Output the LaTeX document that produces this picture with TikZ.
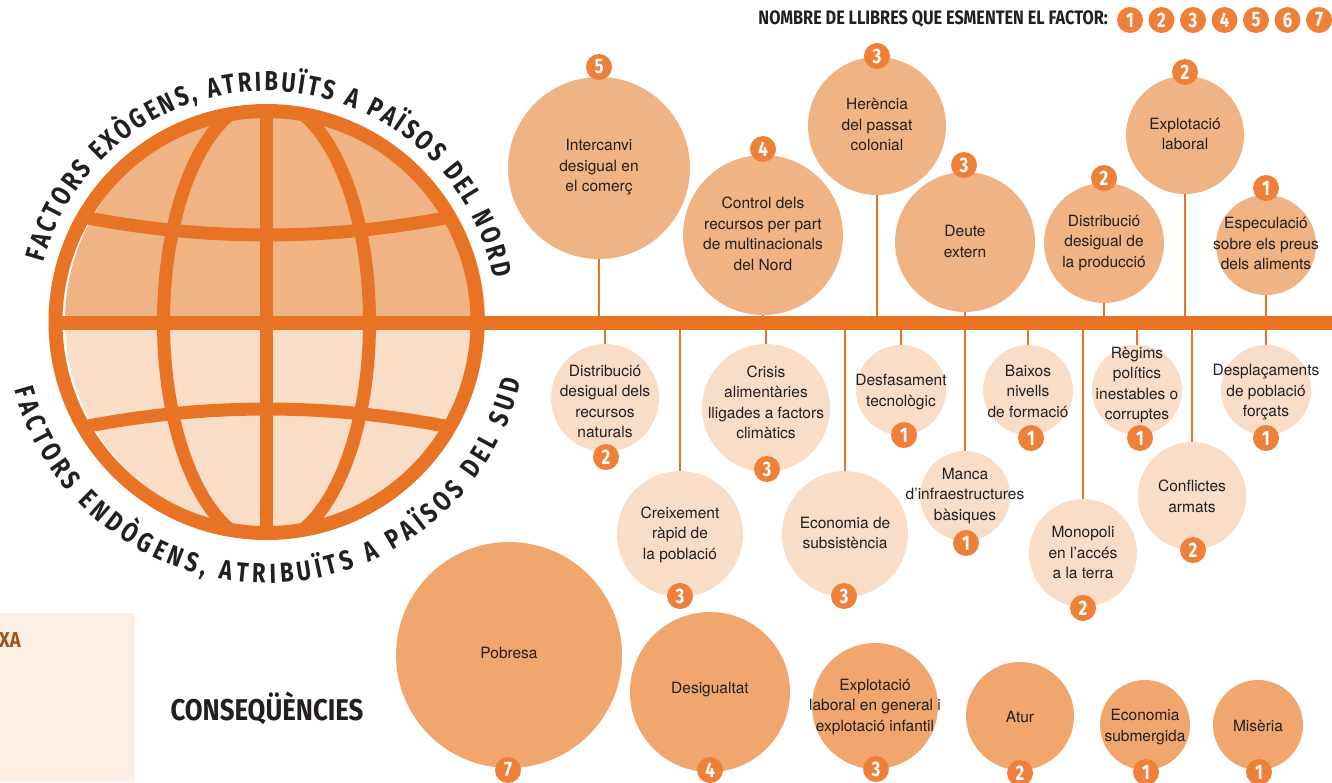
\documentclass[tikz,border=0pt]{standalone}
\usepackage{fontspec}
\setmainfont{TeX Gyre Heros}
\newfontfamily\cond{Fira Sans}[FakeStretch=0.8]
\newfontfamily\condw{Fira Sans}[FakeStretch=0.86]
\newfontfamily\condl{Fira Sans}[FakeStretch=0.835]
\usetikzlibrary{decorations.text}
\definecolor{barorange}{HTML}{E87324}
\definecolor{badgecol}{HTML}{EF8039}
\definecolor{topfill}{HTML}{F0B383}
\definecolor{botfill}{HTML}{F9DDC7}
\definecolor{consfill}{HTML}{F0A66D}
\definecolor{globetop}{HTML}{F0B383}
\definecolor{globebot}{HTML}{FADDC6}
\definecolor{textdark}{HTML}{231F20}
\definecolor{boxfill}{HTML}{FDEFE4}
\definecolor{browntext}{HTML}{A0511E}
\newcommand{\bodyfont}{\fontsize{15.5}{20.5}\selectfont}
\newcommand{\globefont}{\cond\bfseries\fontsize{27.5}{27.5}\selectfont}
\begin{document}
\begin{tikzpicture}[x=1pt,y=1pt,
  gl/.style={draw=barorange, line width=14pt},
  grid/.style={draw=barorange, line width=13pt},
  bar/.style={draw=barorange, line width=14pt},
  conn/.style={draw=barorange, line width=2.6pt},
  cir/.style={circle, inner sep=0pt, outer sep=0pt, minimum size=#1},
  txt/.style={align=center, font=\bodyfont, text=textdark, inner sep=0pt},
  badge/.style={circle, fill=badgecol, inner sep=0pt, minimum size=26pt, text=white, font=\cond\bfseries\fontsize{21}{21}\selectfont},
  head/.style={text=textdark, inner sep=0pt, font=\condl\bfseries\fontsize{19.5}{19.5}\selectfont}
]
\useasboundingbox (0,0) rectangle (1332,-782);

% left box
\fill[boxfill] (0,-613) rectangle (135,-782);
\node[anchor=west, inner sep=0pt, text=browntext, font=\condw\bfseries\fontsize{21.5}{21.5}\selectfont] (xa) at (-1,-640) {XA};

% globe fills
\begin{scope}
  \clip (0,-322) rectangle (600,0);
  \fill[globetop] (275,-321) circle (210);
\end{scope}
\begin{scope}
  \clip (0,-322) rectangle (600,-782);
  \fill[globebot] (275,-321) circle (210);
\end{scope}
% globe grid
\begin{scope}
  \clip (266.5,-322) circle (211);
  \draw[grid] (266.5,-322) ellipse [x radius=103, y radius=222];
  \draw[grid] (266.5,0) -- (266.5,-700);
  \draw[grid] (46.5,-209.1) .. controls (193.2,-243.6) and (339.8,-243.6) .. (486.5,-209.1);
  \draw[grid] (46.5,-434.9) .. controls (193.2,-400.4) and (339.8,-400.4) .. (486.5,-434.9);
\end{scope}
\coordinate (barL) at (55,-323);
\coordinate (barR) at (1332,-323);
\draw[bar] (barL) -- (barR);
\draw[gl] (266.5,-322) circle (211);

% curved labels
\path[decorate, decoration={text along path, text align={fit to path},
  text={|\globefont\color{textdark}|FACTORS EXÒGENS, ATRIBUÏTS A PAÏSOS DEL NORD}}]
  (266.5,-322) ++(165:231) arc[start angle=165, end angle=11, radius=231];
\path[decorate, decoration={text along path, text align={fit to path},
  text={|\globefont\color{textdark}|FACTORS ENDÒGENS, ATRIBUÏTS A PAÏSOS DEL SUD}}]
  (266.5,-322) ++(195:261) arc[start angle=195, end angle=347, radius=261];

% legend
\node[head, anchor=east] (legend) at (1108,-19.5) {NOMBRE DE LLIBRES QUE ESMENTEN EL FACTOR:};
\node[badge] (L1) at (1130,-20) {1};
\node[badge] (L2) at (1161.5,-20) {2};
\node[badge] (L3) at (1193,-20) {3};
\node[badge] (L4) at (1224.5,-20) {4};
\node[badge] (L5) at (1256,-20) {5};
\node[badge] (L6) at (1287.5,-20) {6};
\node[badge] (L7) at (1319,-20) {7};

% consequences title
\node[text=textdark, inner sep=0pt, font=\condw\bfseries\fontsize{30}{30}\selectfont] (cons) at (267,-708) {CONSEQÜÈNCIES};

% ---------- top circles (exogenous) ----------
\node[cir=182pt, fill=topfill] (T1) at (599,-168) {};
\node[txt] (T1t) at (599,-167.5) {Intercanvi\\desigual en\\el comerç};
\node[badge] (T1b) at (599,-67) {5};
\draw[conn] (T1.south) -- (T1.south |- barL);

\node[cir=160pt, fill=topfill] (T2) at (763,-235) {};
\node[txt] (T2t) at (763,-234) {Control dels\\recursos per part\\de multinacionals\\del Nord};
\node[badge] (T2b) at (763,-149) {4};
\draw[conn] (T2.south) -- (T2.south |- barL);

\node[cir=138pt, fill=topfill] (T3) at (877,-126) {};
\node[txt] (T3t) at (877,-124.5) {Herència\\del passat\\colonial};
\node[badge] (T3b) at (877,-56) {3};
\draw[conn] (T3.south) -- (T3.south |- barL);

\node[cir=140pt, fill=topfill] (T4) at (965,-242) {};
\node[txt] (T4t) at (965,-241.5) {Deute\\extern};
\node[badge] (T4b) at (964,-165) {3};
\draw[conn] (T4.south) -- (T4.south |- barL);

\node[cir=120pt, fill=topfill] (T5) at (1104,-243) {};
\node[txt] (T5t) at (1104,-243) {Distribució\\desigual de\\la producció};
\node[badge] (T5b) at (1104,-178) {2};
\draw[conn] (T5.south) -- (T5.south |- barL);

\node[cir=118pt, fill=topfill] (T6) at (1185,-135) {};
\node[txt] (T6t) at (1185,-134) {Explotació\\laboral};
\node[badge] (T6b) at (1185,-72) {2};
\draw[conn] (T6.south) -- (T6.south |- barL);

\node[cir=100pt, fill=topfill] (T7) at (1266,-245) {};
\node[txt] (T7t) at (1266,-243.5) {Especulació\\sobre els preus\\dels aliments};
\node[badge] (T7b) at (1266,-188) {1};
\draw[conn] (T7.south) -- (T7.south |- barL);

% ---------- bottom circles (endogenous) ----------
\node[cir=108pt, fill=botfill] (B1) at (605,-398) {};
\node[txt] (B1t) at (605,-401.5) {Distribució\\desigual dels\\recursos\\naturals};
\node[badge] (B1b) at (606,-457) {2};
\draw[conn] (B1.north) -- (B1.north |- barL);

\node[cir=126pt, fill=botfill] (B2) at (680,-534) {};
\node[txt] (B2t) at (680,-534.5) {Creixement\\ràpid de\\la població};
\node[badge] (B2b) at (680,-596) {3};
\draw[conn] (B2.north) -- (B2.north |- barL);

\node[cir=128pt, fill=botfill] (B3) at (766,-408) {};
\node[txt] (B3t) at (766,-402.5) {Crisis\\alimentàries\\lligades a factors\\climàtics};
\node[badge] (B3b) at (767,-469) {3};
\draw[conn] (B3.north) -- (B3.north |- barL);

\node[cir=126pt, fill=botfill] (B4) at (845,-534) {};
\node[txt] (B4t) at (845,-533) {Economia de\\subsistència};
\node[badge] (B4b) at (844,-596) {3};
\draw[conn] (B4.north) -- (B4.north |- barL);

\node[cir=90pt, fill=botfill] (B5) at (901,-390) {};
\node[txt] (B5t) at (901,-392) {Desfasament\\tecnològic};
\node[badge] (B5b) at (904,-435) {1};
\draw[conn] (B5.north) -- (B5.north |- barL);

\node[cir=90pt, fill=botfill] (B6) at (965,-496) {};
\node[txt] (B6t) at (965,-496) {Manca\\d'infraestructures\\bàsiques};
\node[badge] (B6b) at (966,-543) {1};
\draw[conn] (B6.north) -- (B6.north |- barL);

\node[cir=90pt, fill=botfill] (B7) at (1028,-390) {};
\node[txt] (B7t) at (1028,-391) {Baixos\\nivells\\de formació};
\node[badge] (B7b) at (1031,-438) {1};
\draw[conn] (B7.north) -- (B7.north |- barL);

\node[cir=108pt, fill=botfill] (B8) at (1083,-553) {};
\node[txt] (B8t) at (1083,-552.5) {Monopoli\\en l'accés\\a la terra};
\node[badge] (B8b) at (1083,-608) {2};
\draw[conn] (B8.north) -- (B8.north |- barL);

\node[cir=90pt, fill=botfill] (B9) at (1137,-390) {};
\node[txt] (B9t) at (1137,-385) {Règims\\polítics\\inestables o\\corruptes};
\node[badge] (B9b) at (1140,-438) {1};
\draw[conn] (B9.north) -- (B9.north |- barL);

\node[cir=108pt, fill=botfill] (B10) at (1192,-496) {};
\node[txt] (B10t) at (1192,-496.5) {Conflictes\\armats};
\node[badge] (B10b) at (1193,-550) {2};
\draw[conn] (B10.north) -- (B10.north |- barL);

\node[cir=90pt, fill=botfill] (B11) at (1266,-390) {};
\node[txt] (B11t) at (1266,-392.5) {Desplaçaments\\de població\\forçats};
\node[badge] (B11b) at (1266,-438) {1};
\draw[conn] (B11.north) -- (B11.north |- barL);

% ---------- consequences ----------
\node[cir=226pt, fill=consfill] (C1) at (509,-655) {};
\node[txt] (C1t) at (509,-653) {Pobresa};
\node[badge] (C1b) at (508,-770) {7};

\node[cir=160pt, fill=consfill] (C2) at (710,-692) {};
\node[txt] (C2t) at (710,-690) {Desigualtat};
\node[badge] (C2b) at (710,-770) {4};

\node[cir=126pt, fill=consfill] (C3) at (875,-706) {};
\node[txt] (C3t) at (875,-707) {Explotació\\laboral en general i\\explotació infantil};
\node[badge] (C3b) at (876,-769) {3};

\node[cir=108pt, fill=consfill] (C4) at (1020,-716) {};
\node[txt] (C4t) at (1020,-717) {Atur};
\node[badge] (C4b) at (1020,-773) {2};

\node[cir=90pt, fill=consfill] (C5) at (1145,-725) {};
\node[txt] (C5t) at (1145,-727) {Economia\\submergida};
\node[badge] (C5b) at (1146,-772) {1};

\node[cir=90pt, fill=consfill] (C6) at (1258,-725) {};
\node[txt] (C6t) at (1258,-726) {Misèria};
\node[badge] (C6b) at (1259,-772) {1};
\end{tikzpicture}
\end{document}
